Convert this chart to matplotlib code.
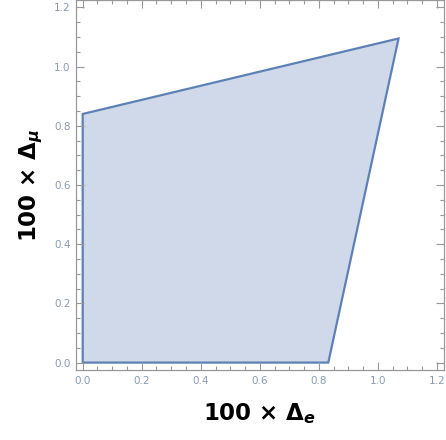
import matplotlib
matplotlib.use("Agg")
import matplotlib.pyplot as plt
from matplotlib.ticker import MultipleLocator

# region vertices (100 x Delta_e, 100 x Delta_mu)
delta_e = [0.0, 0.0, 1.07, 0.832, 0.0]
delta_mu = [0.0, 0.84, 1.095, 0.0, 0.0]

plt.rcParams["mathtext.fontset"] = "custom"
plt.rcParams["mathtext.rm"] = "DejaVu Sans:bold"
plt.rcParams["mathtext.it"] = "DejaVu Sans:bold:italic"
plt.rcParams["mathtext.bf"] = "DejaVu Sans:bold"

fig = plt.figure(figsize=(4.46, 4.40), dpi=100)
ax = fig.add_axes([76 / 446, 70 / 440, 368 / 446, 370 / 440])

ax.fill(delta_e, delta_mu, facecolor="#cfd9ea", edgecolor="#5e81b5", linewidth=1.6)

ax.set_xlim(-0.0227, 1.224)
ax.set_ylim(-0.025, 1.225)

for axis in (ax.xaxis, ax.yaxis):
    axis.set_major_locator(MultipleLocator(0.2))
    axis.set_minor_locator(MultipleLocator(0.05))

ax.tick_params(which="both", direction="in", top=True, right=True, color="#999999", width=0.8)
ax.tick_params(which="major", length=6, labelsize=7.5, labelcolor="#8a9ab3", pad=4)
ax.tick_params(which="minor", length=3)
ax.tick_params(labeltop=False, labelright=False)
ax.xaxis.set_major_formatter(plt.FuncFormatter(lambda v, p: f"{v:.1f}"))
ax.yaxis.set_major_formatter(plt.FuncFormatter(lambda v, p: f"{v:.1f}"))

for s in ax.spines.values():
    s.set_color("#999999")
    s.set_linewidth(0.9)

ax.set_xlabel(r"100 $\times$ $\Delta_{e}$", fontsize=16.5, fontweight="bold")
ax.set_ylabel(r"100 $\times$ $\Delta_{\mu}$", fontsize=16.5, fontweight="bold")
ax.xaxis.set_label_coords(0.5, -0.085)
ax.yaxis.set_label_coords(-0.085, 0.5)

fig.savefig("out.png", dpi=100)
